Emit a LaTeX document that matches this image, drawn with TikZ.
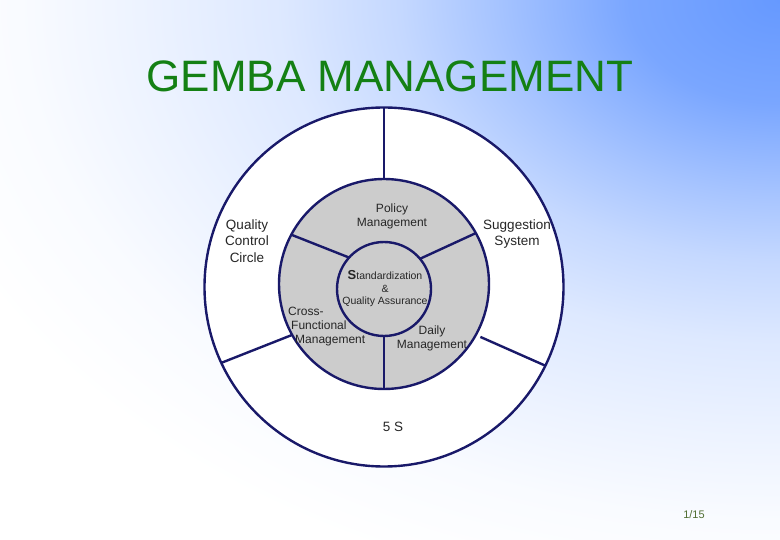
\documentclass[tikz,border=0pt]{standalone}
\usepackage{fontspec}
\setmainfont{Liberation Sans}
\definecolor{fondo}{RGB}{102,153,255}
\definecolor{linea}{RGB}{25,25,105}
\definecolor{relleno}{RGB}{204,204,204}
\definecolor{titulo}{RGB}{20,128,20}
\definecolor{pagina}{RGB}{80,110,50}
\pgfdeclareradialshading{brillo}{\pgfpoint{0bp}{0bp}}{color(0bp)=(fondo); color(4.2bp)=(fondo!87!white); color(8bp)=(fondo!57!white); color(10.6bp)=(fondo!38!white); color(13.9bp)=(fondo!22!white); color(17.7bp)=(fondo!12!white); color(21.1bp)=(fondo!4!white); color(25bp)=(white); color(50bp)=(white)}
\begin{document}
\begin{tikzpicture}[x=1pt,y=-1pt,
    anillo/.style={circle, draw=linea, line width=2.4pt, inner sep=0pt, outer sep=0pt},
    division/.style={draw=linea, line width=2.4pt},
    grande/.style={align=center, text=black!85, inner sep=0pt, font=\fontsize{13.5}{16.5}\selectfont},
    chica/.style={align=center, text=black!85, inner sep=0pt, font=\fontsize{12}{14}\selectfont}]
        % Fondo
        \useasboundingbox (0,0) rectangle (780,540);
        \clip (0,0) rectangle (780,540);
        \fill[white] (0,0) rectangle (780,540);
        \shade[shading=brillo] (780,0) ellipse [x radius=900pt, y radius=616pt];

        % Título
        \node[text=titulo, font=\fontsize{44}{50}\selectfont, anchor=base] (title) at (390,92) {GEMBA MANAGEMENT};

        % Círculos
        \node[anillo, fill=white, minimum size=359pt] (outer) at (384,287) {};
        \node[anillo, fill=relleno, minimum size=210pt] (middle) at (384,284) {};
        \node[anillo, fill=relleno, minimum size=94pt] (inner) at (384,289) {};

        % Divisiones
        \draw[division] (outer.90) -- (middle.90);
        \draw[division] (outer.205) -- (middle.209);
        \draw[division, shorten <=5pt] (middle.331) -- (outer.334);
        \draw[division] (middle.152) -- (inner.138);
        \draw[division] (middle.29) -- (inner.40);
        \draw[division] (inner.270) -- (middle.270);

        % Etiquetas
        \node[grande] (qcc) at (247,241) {Quality\\Control\\Circle};
        \node[grande] (sugg) at (517,234) {Suggestion\\System};
        \node[chica] (policy) at (392,216) {Policy\\Management};
        \node[align=center, text=black!85, inner sep=0pt, font=\fontsize{10.5}{12.5}\selectfont] (std) at (385,289)
            {{\fontsize{13}{13}\selectfont\bfseries S}tandardization\\\&\\Quality Assurance};
        \node[chica, align=left, anchor=west] (cross) at (288,327) {Cross-\\\hspace*{3pt}Functional\\\hspace*{7pt}Management};
        \node[chica] (daily) at (432,338) {Daily\\Management};
        \node[grande] (fives) at (393,427) {5 S};

        % Página
        \node[text=pagina, font=\fontsize{11}{13}\selectfont] (page) at (694,515) {1/15};
    \end{tikzpicture}
\end{document}
